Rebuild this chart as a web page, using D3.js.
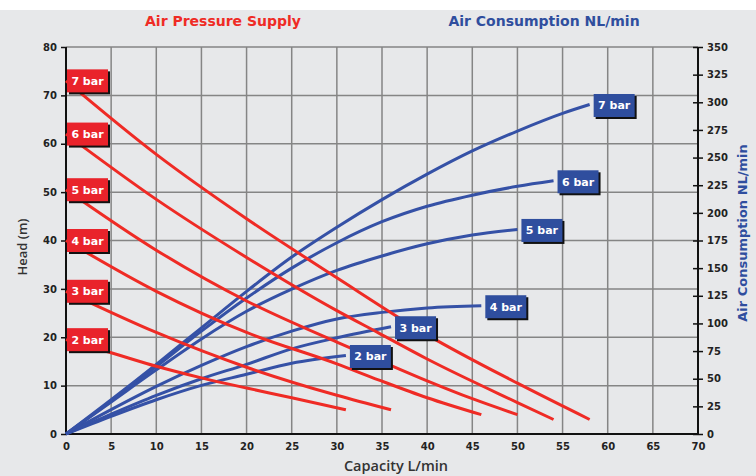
<!DOCTYPE html>
<html>
<head>
<meta charset="utf-8">
<script src="https://d3js.org/d3.v7.min.js"></script>
<style>
  body { margin: 0; background: #e7e8ea; }
  svg { display: block; }
  .grid line { stroke: #858585; stroke-width: 1.5px; }
  .tick text { font-family: "DejaVu Sans", sans-serif; font-weight: bold; font-size: 10px; fill: #222; }
  .lbl text { font-family: "DejaVu Sans", sans-serif; font-weight: bold; font-size: 11px; fill: #fff; }
</style>
</head>
<body>
<svg id="chart" width="756" height="476"></svg>
<script>
// capacity L/min vs head (m), per supply pressure
const pressures = ["2 bar", "3 bar", "4 bar", "5 bar", "6 bar", "7 bar"];
const head2 = [[0, 19.5], [5, 16.8], [10, 14], [15, 11.6], [20, 9.5], [25, 7.5], [31, 5]];
const head3 = [[0, 29.5], [10, 21], [20, 13.8], [30, 8], [36, 5]];
const head4 = [[0, 40], [10, 29.5], [20, 21], [30, 14.5], [34.6, 11.2], [40, 7.5], [46, 4]];
const head5 = [[0, 50.5], [10, 38], [20, 27.5], [30, 19], [34.6, 15.3], [40, 11], [45, 7.3], [50, 4]];
const head6 = [[0, 62], [10, 48.5], [20, 36.5], [30, 25.5], [34.6, 20.9], [40, 15.5], [50, 6.5], [54, 3]];
const head7 = [[0, 73], [10, 57.8], [20, 44.5], [30, 32.3], [40, 20.5], [50, 10.5], [58, 3]];

// capacity L/min vs air consumption NL/min
const air2 = [[0, 0], [5, 16], [10, 31], [15, 44], [20, 54], [25, 64], [31, 71]];
const air3 = [[0, 0], [5, 18], [10, 35], [15, 50], [20, 63], [25, 77], [30, 87], [36, 97]];
const air4 = [[0, 0], [5, 22], [10, 43], [15, 62], [20, 79], [25, 93], [30, 104], [35, 110], [40, 114], [46, 116]];
const air5 = [[0, 0], [5, 29], [10, 58], [15, 86], [20, 111], [25, 131], [30, 148], [35, 161], [40, 172], [45, 180], [50, 185]];
const air6 = [[0, 0], [5, 30], [10, 61], [15, 93], [20, 123], [25, 150], [30, 173], [35, 192], [40, 206], [45, 216], [50, 224], [54, 229]];
const air7 = [[0, 0], [5, 31], [10, 63], [15, 96], [20, 129], [25, 160], [30, 187], [35, 212], [40, 235], [45, 256], [50, 274], [55, 290], [58, 298]];

const xTicks = d3.range(0, 71, 5);
const headTicks = d3.range(0, 81, 10);
const airTicks = d3.range(0, 351, 25);

const heads = [head2, head3, head4, head5, head6, head7];
const airs = [air2, air3, air4, air5, air6, air7];

const svg = d3.select("#chart");
const x = d3.scaleLinear().domain([0, 70]).range([66, 698]);
const yH = d3.scaleLinear().domain([0, 80]).range([434, 47]);
const yA = d3.scaleLinear().domain([0, 350]).range([434, 47]);

svg.append("rect").attr("width", 756).attr("height", 476).attr("fill", "#e7e8ea");
svg.append("rect").attr("width", 756).attr("height", 10).attr("fill", "#fff");

// grid
const grid = svg.append("g").attr("class", "grid");
grid.selectAll(".v").data(xTicks).enter().append("line")
  .attr("x1", d => x(d)).attr("x2", d => x(d)).attr("y1", yH(80)).attr("y2", yH(0));
grid.selectAll(".h").data(headTicks).enter().append("line")
  .attr("x1", x(0)).attr("x2", x(70)).attr("y1", d => yH(d)).attr("y2", d => yH(d));

// axes
const axL = svg.append("g").attr("transform", "translate(" + x(0) + ",0)")
  .call(d3.axisLeft(yH).tickValues(headTicks).tickSize(5).tickPadding(4));
const axR = svg.append("g").attr("transform", "translate(" + x(70) + ",0)")
  .call(d3.axisRight(yA).tickValues(airTicks).tickSize(5).tickPadding(4));
axR.selectAll(".tick line").attr("x1", -5);
const axB = svg.append("g").attr("transform", "translate(0," + yH(0) + ")")
  .call(d3.axisBottom(x).tickValues(xTicks).tickSize(0).tickPadding(9));
[axL, axR, axB].forEach(a => {
  a.select(".domain").attr("stroke", "#111").attr("stroke-width", 2);
  a.selectAll(".tick line").attr("stroke", "#111").attr("stroke-width", 1.5);
});
axL.select(".domain").attr("d", "M0," + yH(80) + "V" + yH(0));
axR.select(".domain").attr("d", "M0," + yA(350) + "V" + yA(0));
axB.select(".domain").attr("d", "M" + x(0) + ",0H" + x(70));

// curves
const lineH = d3.line().x(d => x(d[0])).y(d => yH(d[1])).curve(d3.curveMonotoneX);
const lineA = d3.line().x(d => x(d[0])).y(d => yA(d[1])).curve(d3.curveMonotoneX);

svg.append("g").selectAll("path").data(airs).enter().append("path")
  .attr("d", lineA).attr("fill", "none").attr("stroke", "#3551a6").attr("stroke-width", 3);
svg.append("g").selectAll("path").data(heads).enter().append("path")
  .attr("d", lineH).attr("fill", "none").attr("stroke", "#ef2b25").attr("stroke-width", 3);

// labels
function tag(g, px, py, txt, fill) {
  const w = 41, h = 23;
  const t = g.append("g").attr("class", "lbl").attr("transform", "translate(" + px + "," + (py - h / 2) + ")");
  t.append("rect").attr("x", 2).attr("y", 2).attr("width", w).attr("height", h).attr("fill", "#111");
  t.append("rect").attr("width", w).attr("height", h).attr("fill", fill);
  t.append("text").attr("x", w / 2).attr("y", h / 2 + 4).attr("text-anchor", "middle").text(txt);
}
const labels = svg.append("g");
heads.forEach((s, i) => tag(labels, x(0) + 1, yH(s[0][1]), pressures[i], "#e9232b"));
airs.forEach((s, i) => {
  const e = s[s.length - 1];
  tag(labels, x(e[0]) + 4, yA(e[1]) + 1, pressures[i], "#2f4e9e");
});

// titles
svg.append("text").attr("x", 223).attr("y", 26).attr("text-anchor", "middle")
  .attr("font-family", "DejaVu Sans, sans-serif").attr("font-weight", "bold").attr("font-size", 14)
  .attr("fill", "#ef2b25").text("Air Pressure Supply");
svg.append("text").attr("x", 544).attr("y", 26).attr("text-anchor", "middle")
  .attr("font-family", "DejaVu Sans, sans-serif").attr("font-weight", "bold").attr("font-size", 14)
  .attr("fill", "#2f4e9e").text("Air Consumption NL/min");
svg.append("text").attr("transform", "translate(27,247) rotate(-90)").attr("text-anchor", "middle")
  .attr("font-family", "Open Sans, sans-serif").attr("font-weight", 600).attr("font-size", 13)
  .attr("fill", "#333").text("Head (m)");
svg.append("text").attr("x", 396).attr("y", 471).attr("text-anchor", "middle")
  .attr("font-family", "Open Sans, sans-serif").attr("font-weight", 600).attr("font-size", 14.5)
  .attr("fill", "#333").text("Capacity L/min");
svg.append("text").attr("transform", "translate(747,233) rotate(-90)").attr("text-anchor", "middle")
  .attr("font-family", "DejaVu Sans, sans-serif").attr("font-weight", "bold").attr("font-size", 13)
  .attr("fill", "#2f4e9e").text("Air Consumption NL/min");
</script>
</body>
</html>
